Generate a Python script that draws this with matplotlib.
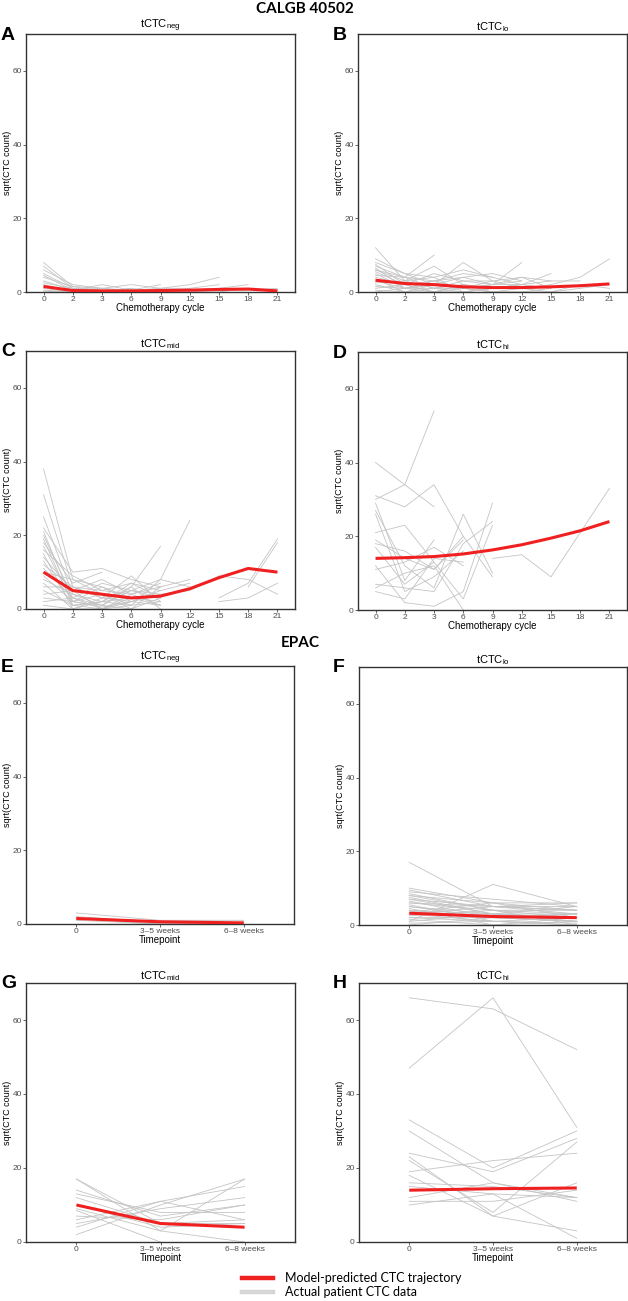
import numpy as np
import matplotlib
matplotlib.use("Agg")
import matplotlib.pyplot as plt
from matplotlib.lines import Line2D

plt.rcParams['font.family'] = ['Liberation Sans', 'DejaVu Sans']
plt.rcParams['mathtext.default'] = 'regular'

# ---- data (sqrt CTC count) ----
cycles = ['0', '2', '3', '6', '9', '12', '15', '18', '21']
timepoints = ['0', '3\u20135 weeks', '6\u20138 weeks']
N = None

model_a = [1.5, 0.4, 0.3, 0.3, 0.4, 0.5, 0.7, 0.8, 0.3]
model_b = [3.2, 2.3, 2.0, 1.4, 1.2, 1.2, 1.4, 1.7, 2.2]
model_c = [10.0, 5.0, 4.0, 3.0, 3.5, 5.5, 8.5, 11.0, 10.0]
model_d = [14.0, 14.2, 14.5, 15.2, 16.3, 17.7, 19.5, 21.5, 24.0]
model_e = [1.5, 0.6, 0.3]
model_f = [3.2, 2.3, 2.0]
model_g = [10.0, 5.0, 4.0]
model_h = [14.0, 14.4, 14.6]

patients_a = [
    [8, 1.5, 1, 0.5, 1, 1],
    [7, 1, 1, 2, 1],
    [6, 2, 1, 0, 0],
    [5, 1, 0, 0],
    [4.5, 0.5, 2, 0.5, 0, 0],
    [4, 1.5, 0],
    [3, 0.5, 0, 1],
    [2.5, 1, 0.5, 0.5, 2],
    [2, 0, 0, 0, 0, 1, 2],
    [1.5, 0, 1, 0, 1, 2, 4],
    [1, 0, 0, 1, 0, 0.5, 1, 2],
    [0.5, 0, 0, 0, 0, 0, 0.5, 0.5, 1],
    [0, 0.5, 0.5, 0, 0.5, 0, 0, 1, 0.5],
]

patients_b = [
    [12, 3, 1, 2],
    [8, 5, 2, 8, 3],
    [7.5, 2, 3, 1, 2, 8],
    [7, 4, 10],
    [6.5, 1, 2, 4, 5, 3],
    [6, 3, 7, 2, 1, 2, 5],
    [5.5, 2, 0, 1, 2, 4, 3],
    [5, 1, 3, 5, 4, 2],
    [4.5, 4, 1, 0, 1],
    [4, 2, 5, 3, 3, 1, 2, 4, 9],
    [3.5, 0, 2, 1, 0, 0, 1],
    [3, 1, 1, 3, 2, 3],
    [2.5, 3, 4, 0, 1],
    [2, 0, 0, 2, 0, 1, 0, 1, 2],
    [1.5, 1, 2, 1, 3, 4, 1],
    [1, 2, 0, 0, 1],
    [0.5, 0, 1, 1, 0, 0, 0, 2, 1],
    [0, 1, 0, 2, 1, 2, 3, 3],
    [9, 5, 4, 6, 4],
    [6, 4, 3, 4, 2, 2, 1],
]

patients_c = [
    [38, 8, 6, 2],
    [31, 6, 3, 5, 8, 24],
    [25, 4, 2, 6, 17],
    [22, 10, 11, 8, 6],
    [20, 3, 0, 4, 7],
    [18, 7, 10],
    [17, 2, 1, 0, 3],
    [16, 9, 5, 7, 5],
    [15, 0, 2, 3, 1],
    [14, 5, 8, 4, 6, 8],
    [13, 1, 0, 2, 4],
    [12, 6, 3, 9, 2],
    [11, 3, 7, 5, 3],
    [10, 8, 4, 1, 8, 6],
    [9, 2, 6, 3, 2],
    [8, 4, 1, 6, 0],
    [7, 0, 3, 2, 5, 7],
    [6, 6, 5, 4, 1],
    [5, 1, 2, 7, 3],
    [4, 5, 0, 1, 2],
    [3, 2, 4, 0, 6],
    [2, 3, 1, 5, 4, 5, 9],
    [1, 0, 0, 3],
    [19, 1, 2, 1],
    [21, 2, 0.5, 2, 1],
    [N, N, N, N, N, N, 3, 7, 19],
    [N, N, N, N, N, N, 2, 3, 7],
    [N, N, N, N, N, N, N, 6, 18],
    [N, N, N, N, N, N, 9, 8, 4],
]

patients_d = [
    [40, 34, 28],
    [31, 28, 34, 20, 9],
    [30, 34, 54],
    [29, 8, 19],
    [27, 12, 6, 26, 10],
    [26, 5, 9, 16],
    [21, 23, 13, 3, 23],
    [19, 14, 11, 19],
    [18, 16, 11, 20],
    [17, 7, 13],
    [12, 2, 1, 5, 29],
    [11, 13, 17, 12],
    [7, 6, 5, 18, 24],
    [6, 10, 12, 0],
    [5, 3, 14, 13],
    [N, N, N, N, 14, 15, 9, N, 33],
]

patients_e = [
    [3, 1, 1],
    [2, 0.5, 0],
    [1.5, 0, 0],
    [1, 0, 0.5],
]

patients_f = [
    [17, 5, 6],
    [1, 11, 5],
    [10, 6, 4], [9.5, 5, 3], [9, 7, 5], [8.5, 4, 2], [8, 6, 6],
    [7.5, 3, 1], [7, 5, 4], [6.5, 2, 3], [6, 4, 0], [5.5, 1, 2],
    [5, 3, 5], [4.5, 0, 1], [4, 2, 3], [3.5, 6, 2], [3, 1, 0],
    [2.5, 4, 4], [2, 2, 1], [1.5, 0, 2], [1, 3, 3], [0.5, 1, 0],
    [0, 2, 1], [6, 5, 5], [4, 3, 2], [2, 1, 0.5], [8, 4, 3],
    [5, 2, 1], [3, 5, 4], [7, 3, 2],
]

patients_g = [
    [2, 10, 17],
    [4, 11, 15],
    [5, 9, 12],
    [7, 6, 10],
    [8.5, 0, N],
    [9, 3, 0],
    [10, 4, 5],
    [12, 5, 6],
    [13, 8, 8],
    [14, 7, 10],
    [17, 5, 5],
    [17, 3, 17],
    [6, 11, 6],
]

patients_h = [
    [66, 63, 52],
    [47, 66, 31],
    [33, 20, 30],
    [30, 16, 12],
    [24, 19, 28],
    [23, 7, 16],
    [22, 8, 27],
    [19, 22, 24],
    [18, 7, 3],
    [16, 15, 12],
    [15, 13, 1],
    [12, 16, 11],
    [11, 11, 14],
    [10, 13, 12],
]

# ---- layout (pixel boxes: left, right, top, bottom) ----
W, H = 628, 1301
fig = plt.figure(figsize=(W / 100, H / 100), dpi=100)

def px_axes(l, r, t, b):
    return fig.add_axes([l / W, 1 - b / H, (r - l) / W, (b - t) / H])

panels = [
    ('A', r'tCTC$_{neg}$', (26, 295, 34, 292), cycles, model_a, patients_a, 'Chemotherapy cycle'),
    ('B', r'tCTC$_{lo}$', (358, 627, 34, 292), cycles, model_b, patients_b, 'Chemotherapy cycle'),
    ('C', r'tCTC$_{mid}$', (26, 295, 351, 609), cycles, model_c, patients_c, 'Chemotherapy cycle'),
    ('D', r'tCTC$_{hi}$', (358, 627, 352, 610), cycles, model_d, patients_d, 'Chemotherapy cycle'),
    ('E', r'tCTC$_{neg}$', (26, 294, 666, 924), timepoints, model_e, patients_e, 'Timepoint'),
    ('F', r'tCTC$_{lo}$', (359, 627, 667, 925), timepoints, model_f, patients_f, 'Timepoint'),
    ('G', r'tCTC$_{mid}$', (26, 295, 983, 1242), timepoints, model_g, patients_g, 'Timepoint'),
    ('H', r'tCTC$_{hi}$', (359, 627, 983, 1242), timepoints, model_h, patients_h, 'Timepoint'),
]

grey = '#c4c4c4'
red = '#f02020'

for letter, title, box, cats, model, patients, xlab in panels:
    ax = px_axes(*box)
    for p in patients:
        xs = [i for i, v in enumerate(p) if v is not None]
        ys = [v for v in p if v is not None]
        ax.plot(xs, ys, color=grey, lw=0.6, zorder=1)
    ax.plot(range(len(model)), model, color=red, lw=2.2, zorder=3, solid_capstyle='butt')

    ax.set_xlim(-0.6, len(cats) - 0.4)
    ax.set_ylim(0, 70)
    ax.set_xticks(range(len(cats)))
    ax.set_xticklabels(cats)
    ax.set_yticks([0, 20, 40, 60])
    ax.tick_params(labelsize=6, colors='#4d4d4d', length=2, width=0.6, pad=1)
    for s in ax.spines.values():
        s.set_color('#333333')
        s.set_linewidth(1.0)
    ax.set_xlabel(xlab, fontsize=7, labelpad=0)
    ax.set_ylabel('sqrt(CTC count)', fontsize=6.5, labelpad=0)
    ax.set_title(title, fontsize=8, pad=3)

    l, r, t, b = box
    lx = 1 if l < 100 else 333
    fig.text(lx / W, 1 - (t + 1) / H, letter, fontsize=14, fontweight='bold',
             ha='left', va='center')

fig.text(305 / W, 1 - 9 / H, 'CALGB 40502', fontsize=11, fontweight='bold',
         family=['Lato', 'DejaVu Sans'], ha='center', va='center')
fig.text(300 / W, 1 - 643 / H, 'EPAC', fontsize=11, fontweight='bold',
         family=['Lato', 'DejaVu Sans'], ha='center', va='center')

# legend
fig.add_artist(Line2D([242 / W, 273 / W], [1 - 1278 / H, 1 - 1278 / H], color=red, lw=3.2))
fig.add_artist(Line2D([242 / W, 273 / W], [1 - 1292 / H, 1 - 1292 / H], color='#d6d6d6', lw=3.2))
fig.text(285 / W, 1 - 1278 / H, 'Model-predicted CTC trajectory', fontsize=9,
         family=['Lato', 'DejaVu Sans'], ha='left', va='center')
fig.text(285 / W, 1 - 1292 / H, 'Actual patient CTC data', fontsize=9,
         family=['Lato', 'DejaVu Sans'], ha='left', va='center')

fig.savefig('out.png', dpi=100)
